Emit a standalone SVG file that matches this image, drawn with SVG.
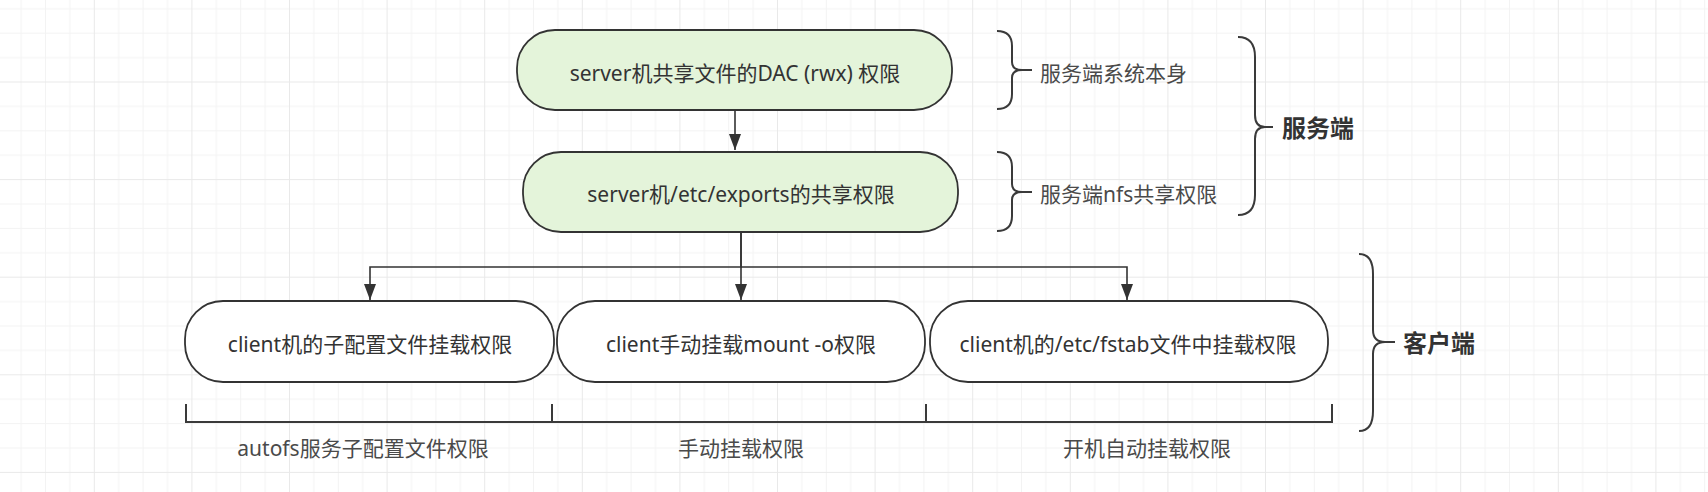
<svg xmlns="http://www.w3.org/2000/svg" width="1708" height="492" viewBox="0 0 1708 492">
<style>
.node{stroke:#333;stroke-width:1.8}
.green{fill:#e4f4da}
.white{fill:#ffffff}
.t{font-family:"Noto Sans","Noto Sans CJK SC",sans-serif;font-size:21px;fill:#333;text-anchor:middle}
.lbl{font-family:"Noto Sans","Noto Sans CJK SC",sans-serif;font-size:21px;fill:#4a4a4a}
.big{font-family:"Noto Sans CJK SC",sans-serif;font-size:24px;font-weight:bold;fill:#333}
.edge{fill:none;stroke:#333;stroke-width:1.6}
.brace{fill:none;stroke:#3a3a3a;stroke-width:2}
</style>
<defs>
<pattern id="grid" x="-3.8" y="-16.1" width="97.6" height="97.6" patternUnits="userSpaceOnUse">
<rect x="24.4" y="0" width="1" height="97.6" fill="#f3f3f3"/>
<rect x="48.8" y="0" width="1" height="97.6" fill="#f3f3f3"/>
<rect x="73.2" y="0" width="1" height="97.6" fill="#f3f3f3"/>
<rect x="0" y="24.4" width="97.6" height="1" fill="#f3f3f3"/>
<rect x="0" y="48.8" width="97.6" height="1" fill="#f3f3f3"/>
<rect x="0" y="73.2" width="97.6" height="1" fill="#f3f3f3"/>
<rect x="0" y="0" width="1" height="97.6" fill="#e9e9e9"/>
<rect x="0" y="0" width="97.6" height="1" fill="#e9e9e9"/>
</pattern>
<marker id="arr" viewBox="0 0 16 12" refX="16" refY="6" markerWidth="16" markerHeight="12" markerUnits="userSpaceOnUse" orient="auto">
<path d="M0,0 L16,6 L0,12 Z" fill="#333"/>
</marker>
</defs>
<rect x="0" y="0" width="1708" height="492" fill="#ffffff"/>
<rect x="0" y="0" width="1708" height="492" fill="url(#grid)"/>

<g id="connectors">
<path class="edge" d="M735,110 V150" marker-end="url(#arr)"/>
<path class="edge" d="M741,232 V267 H370 V300" marker-end="url(#arr)"/>
<path class="edge" d="M741,232 V300" marker-end="url(#arr)"/>
<path class="edge" d="M741,267 H1127 V300" marker-end="url(#arr)"/>
</g>

<g id="node-dac">
<rect class="node green" x="517" y="30" width="435" height="80" rx="38" ry="38"/>
<text class="t" x="735" y="81">server机共享文件的DAC (rwx) 权限</text>
</g>
<g id="node-exports">
<rect class="node green" x="523" y="152" width="435" height="80" rx="38" ry="38"/>
<text class="t" x="741" y="202">server机/etc/exports的共享权限</text>
</g>
<g id="node-autofs">
<rect class="node white" x="185" y="301" width="369" height="81" rx="38" ry="38"/>
<text class="t" x="370" y="352">client机的子配置文件挂载权限</text>
</g>
<g id="node-mount">
<rect class="node white" x="557" y="301" width="368" height="81" rx="38" ry="38"/>
<text class="t" x="741" y="352">client手动挂载mount -o权限</text>
</g>
<g id="node-fstab">
<rect class="node white" x="930" y="301" width="398" height="81" rx="38" ry="38"/>
<text class="t" x="1128" y="352">client机的/etc/fstab文件中挂载权限</text>
</g>

<g id="brace-server-sys">
<path class="brace" d="M997,31 Q1012,31 1012,46 V62 Q1012,70 1022,70 H1032 M1022,70 Q1012,70 1012,78 V94 Q1012,109 997,109"/>
<text class="lbl" x="1040" y="81">服务端系统本身</text>
</g>
<g id="brace-server-nfs">
<path class="brace" d="M997,152 Q1012,152 1012,167 V184 Q1012,192 1022,192 H1032 M1022,192 Q1012,192 1012,200 V216 Q1012,231 997,231"/>
<text class="lbl" x="1040" y="202">服务端nfs共享权限</text>
</g>
<g id="brace-server">
<path class="brace" d="M1238,37 Q1255,37 1255,57 V115 Q1255,127 1265,127 H1273 M1265,127 Q1255,127 1255,139 V195 Q1255,215 1238,215"/>
<text class="big" x="1282" y="137">服务端</text>
</g>
<g id="brace-client">
<path class="brace" d="M1359,254 Q1373,254 1373,274 V330 Q1373,342 1385,342 H1395 M1385,342 Q1373,342 1373,354 V411 Q1373,431 1359,431"/>
<text class="big" x="1403" y="352">客户端</text>
</g>

<g id="bottom-brackets">
<path class="brace" d="M186,404 V422 H1332 V404 M552,404 V422 M926,404 V422"/>
<text class="lbl" x="363" y="456" text-anchor="middle">autofs服务子配置文件权限</text>
<text class="lbl" x="741" y="456" text-anchor="middle">手动挂载权限</text>
<text class="lbl" x="1147" y="456" text-anchor="middle">开机自动挂载权限</text>
</g>
</svg>
